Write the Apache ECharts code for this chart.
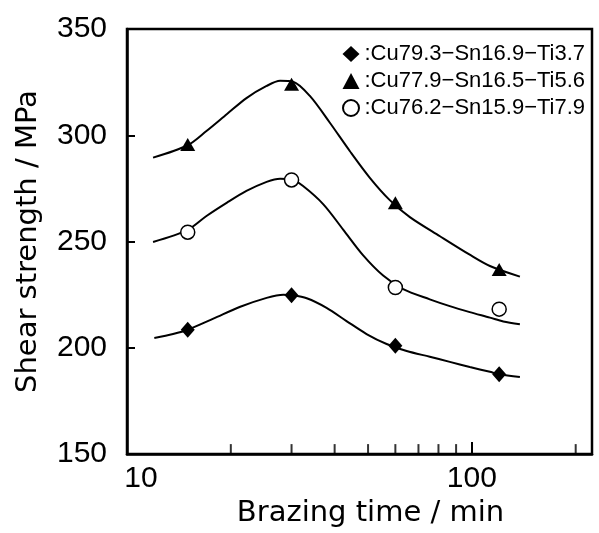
<!DOCTYPE html>
<html><head><meta charset="utf-8">
<script src="https://cdn.jsdelivr.net/npm/echarts@6/dist/echarts.min.js"></script>
<style>html,body{margin:0;padding:0;background:#fff}#c{width:599px;height:533px}</style>
</head><body><div id="c"></div>
<script>
// ---- data ----
const seriesNames = ['Cu79.3\u2212Sn16.9\u2212Ti3.7', 'Cu77.9\u2212Sn16.5\u2212Ti5.6', 'Cu76.2\u2212Sn15.9\u2212Ti7.9'];
const diamondPoints = [[15, 208.5], [30, 224.7], [60, 201], [120, 187.6]];
const trianglePoints = [[15, 295.7], [30, 324], [60, 268.3], [120, 236.8]];
const circlePoints = [[15, 254.4], [30, 279], [60, 228.4], [120, 218.2]];
// fitted curves
const diamondCurve = [[12.0, 204.6], [13.6, 206.5], [15, 208.5], [17.8, 213.7], [21.3, 219.3], [25.4, 223.5], [28.4, 225], [30.3, 224.7], [33.2, 223.3], [37.9, 218.8], [43.3, 212.6], [49.5, 206.5], [56.6, 201.8], [64.7, 198.5], [75.5, 195.8], [86.3, 193.4], [98.6, 191], [112.8, 188.7], [120, 187.6], [137.8, 186.3]];
const triangleCurve = [[11.9, 289.5], [15, 295.3], [17, 302], [19.5, 310], [22.2, 317.5], [25.4, 323.2], [27.8, 325.6], [30.3, 325.2], [33.9, 318.5], [38.7, 306], [44.3, 292.5], [50.6, 280], [57.8, 269.5], [66.1, 261.5], [80.8, 252.5], [98.6, 243.8], [112.8, 238.5], [137.8, 233.5]];
const circleCurve = [[11.9, 249.8], [15, 255.5], [17, 262], [19.5, 268.3], [22.2, 273.8], [25.4, 278.1], [27.8, 279.6], [30, 279.3], [32.4, 276.1], [37.1, 267.5], [42.4, 255.5], [48.4, 243.5], [55.3, 234], [63.2, 227.6], [75.5, 222.8], [86.3, 219.6], [98.6, 216.8], [112.8, 214.2], [123.3, 212.4], [137.8, 211.1]];
const xLabelValues = [10, 100];
const xMinorTicks = [20, 30, 40, 50, 60, 70, 80, 90, 200];
const xRange = [10, 223];
const yRange = [150, 350];
const yStep = 50;

// ---- chart ----
const chart = echarts.init(document.getElementById('c'), null, {renderer: 'canvas'});
const black = '#000';
const curve = (name, data) => ({
  name: name, type: 'line', data: data, smooth: 0.3, showSymbol: false, silent: true,
  lineStyle: {color: black, width: 2}, itemStyle: {color: black}, z: 2
});
chart.setOption({
  backgroundColor: '#fff',
  animation: false,
  grid: {left: 127, right: 7, top: 29, bottom: 73, show: true, borderColor: black, borderWidth: 2.5, backgroundColor: 'transparent'},
  legend: {
    data: seriesNames, orient: 'vertical', left: 337, top: 38, itemWidth: 17, itemHeight: 16, itemGap: 5,
    formatter: n => ':' + n, selectedMode: false,
    textStyle: {fontFamily: 'Liberation Sans', fontSize: 22, color: black}
  },
  xAxis: {
    type: 'log', logBase: 10, min: xRange[0], max: xRange[1],
    name: 'Brazing time / min', nameLocation: 'middle', nameGap: 40,
    nameTextStyle: {fontFamily: 'DejaVu Sans', fontSize: 29, color: black, padding: [0, 0, 0, 22]},
    axisLine: {lineStyle: {color: black, width: 2.5}},
    axisTick: {inside: true, length: 12, lineStyle: {color: black, width: 2}},
    splitLine: {show: false},
    minorTick: {show: false},
    axisLabel: {
      margin: 10, color: black, fontFamily: 'Liberation Sans', fontSize: 30,
      formatter: v => {
        if (Math.abs(v - xLabelValues[0]) < 0.01) return '{a|' + xLabelValues[0] + '}';
        if (Math.abs(v - xLabelValues[1]) < 0.01) return '{b|' + xLabelValues[1] + '}';
        return '';
      },
      rich: {
        a: {fontFamily: 'Liberation Sans', fontSize: 30, color: black, padding: [0, 0, 0, 28]},
        b: {fontFamily: 'Liberation Sans', fontSize: 30, color: black}
      }
    }
  },
  yAxis: {
    type: 'value', min: yRange[0], max: yRange[1], interval: yStep,
    name: 'Shear strength / MPa', nameLocation: 'middle', nameGap: 84,
    nameTextStyle: {fontFamily: 'DejaVu Sans', fontSize: 29, color: black},
    axisLine: {show: true, lineStyle: {color: black, width: 2.5}},
    axisTick: {show: true, inside: true, length: 8, lineStyle: {color: black, width: 2}},
    splitLine: {show: false},
    axisLabel: {margin: 20, color: black, fontFamily: 'Liberation Sans', fontSize: 30, padding: [0, 0, 7, 0]}
  },
  series: [
    curve('fit1', diamondCurve),
    curve('fit2', triangleCurve),
    curve('fit3', circleCurve),
    {name: seriesNames[0], type: 'scatter', data: diamondPoints, symbol: 'diamond', symbolSize: [14, 16],
     itemStyle: {color: black, opacity: 1}, z: 5},
    {name: seriesNames[1], type: 'scatter', data: trianglePoints, symbol: 'triangle', symbolSize: [15, 13],
     itemStyle: {color: black, opacity: 1}, z: 5},
    {name: seriesNames[2], type: 'scatter', data: circlePoints, symbol: 'circle', symbolSize: 14,
     itemStyle: {color: '#fff', borderColor: black, borderWidth: 1.5, opacity: 1}, z: 5},
    {name: 'minorTicks', type: 'scatter', silent: true, clip: false, symbol: 'rect', symbolSize: [2, 10],
     symbolOffset: [0, -5], data: xMinorTicks.map(v => [v, yRange[0]]), itemStyle: {color: black}, z: 6}
  ]
});
</script></body></html>
